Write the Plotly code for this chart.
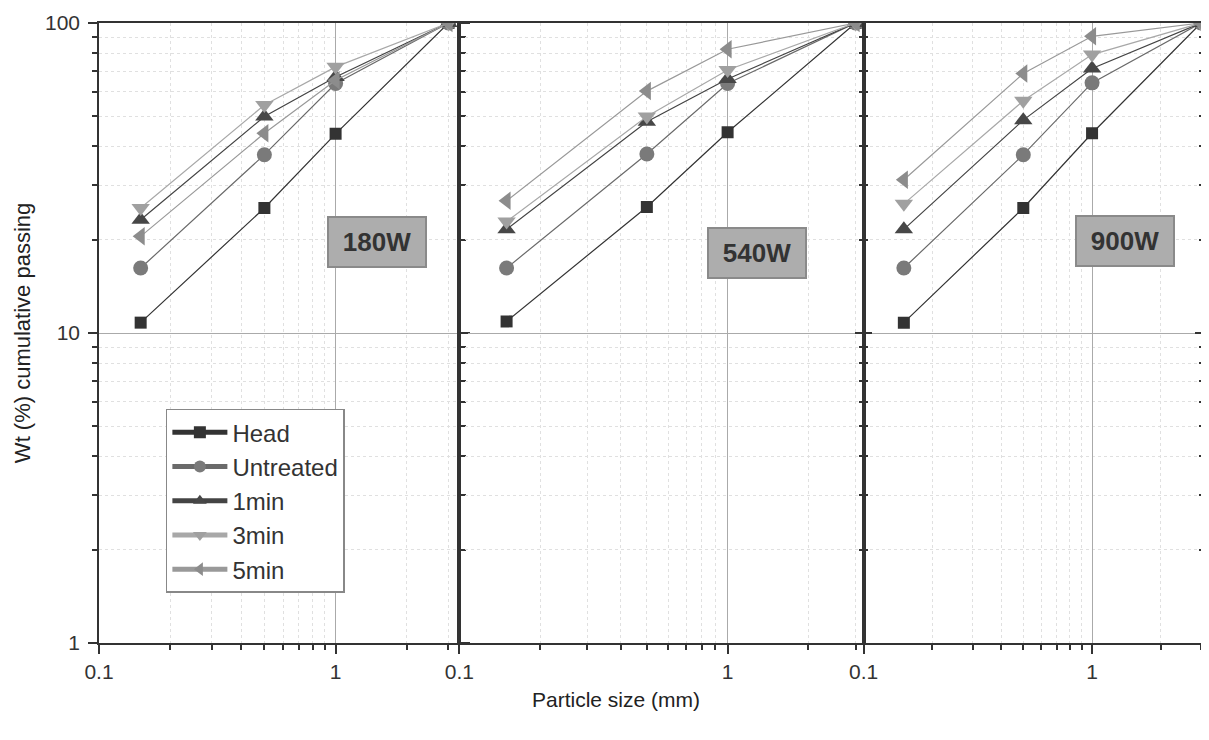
import plotly.graph_objects as go

# ---------------- data ----------------
sizes = [0.15, 0.5, 1.0, 3.0]
series_names = ["Head", "Untreated", "1min", "3min", "5min"]
panel_labels = ["180W", "540W", "900W"]

p180_head = [10.8, 25.3, 43.9, 100]
p180_untreated = [16.2, 37.6, 63.8, 100]
p180_1min = [23.2, 49.9, 67.0, 100]
p180_3min = [25.3, 54.4, 72.2, 100]
p180_5min = [20.5, 44.1, 65.4, 100]

p540_head = [10.9, 25.5, 44.4, 100]
p540_untreated = [16.2, 37.8, 63.8, 100]
p540_1min = [21.6, 48.0, 66.0, 100]
p540_3min = [22.9, 49.9, 70.5, 100]
p540_5min = [26.7, 60.3, 82.3, 100]

p900_head = [10.8, 25.3, 44.1, 100]
p900_untreated = [16.2, 37.6, 64.1, 100]
p900_1min = [21.6, 48.6, 71.3, 100]
p900_3min = [26.1, 56.1, 79.1, 100]
p900_5min = [31.2, 68.7, 90.6, 100]

panels = [
    [p180_head, p180_untreated, p180_1min, p180_3min, p180_5min],
    [p540_head, p540_untreated, p540_1min, p540_3min, p540_5min],
    [p900_head, p900_untreated, p900_1min, p900_3min, p900_5min],
]

x_ticks = [0.1, 1]
x_minor = [0.2, 0.3, 0.4, 0.5, 0.6, 0.7, 0.8, 0.9, 2, 3]
y_ticks = [1, 10, 100]
y_minor = [2, 3, 4, 5, 6, 7, 8, 9, 20, 30, 40, 50, 60, 70, 80, 90]

# ---------------- styles ----------------
symbols = ["square", "circle", "triangle-up", "triangle-down", "triangle-left"]
mcolors = ["#333333", "#7a7a7a", "#474747", "#a0a0a0", "#8c8c8c"]
lcolors = ["#333333", "#6a6a6a", "#444444", "#a8a8a8", "#999999"]
msizes = [12, 15, 16, 16, 16]

OFF = 8  # page body margin
W, H = 1209 - OFF, 740 - OFF
L, T = 99 - OFF, 21 - OFF
R = W - (1206 - OFF)
B = H - (643 - OFF)
pw = W - L - R
ph = H - T - B


def px2paper_x(px):
    return (px - OFF - L) / pw


def px2paper_y(py):
    return (H - B - (py - OFF)) / ph


edges_px = [99, 460, 865, 1206]
domains = [[px2paper_x(edges_px[i]), px2paper_x(edges_px[i + 1])] for i in range(3)]
domains[-1][1] = 1.0
xranges = [[-1, 0.523], [-1, 0.507], [-1, 0.49]]

fig = go.Figure()

for p in range(3):
    xa = "x" if p == 0 else f"x{p+1}"
    for s in range(5):
        fig.add_trace(go.Scatter(
            x=sizes, y=panels[p][s], mode="lines+markers",
            name=series_names[s], showlegend=(p == 0),
            xaxis=xa, yaxis="y" if p == 0 else f"y{p+1}",
            line=dict(color=lcolors[s], width=1.2),
            marker=dict(symbol=symbols[s], size=msizes[s], color=mcolors[s],
                        line=dict(width=0)),
        ))

FONT = "Arial, Liberation Sans, sans-serif"
axis_font = dict(family=FONT, size=21, color="#333333")
for p in range(3):
    key = "xaxis" if p == 0 else f"xaxis{p+1}"
    ykey = "yaxis" if p == 0 else f"yaxis{p+1}"
    fig.layout[key] = dict(
        type="log", domain=domains[p], range=xranges[p],
        anchor="y" if p == 0 else f"y{p+1}",
        tickmode="array", tickvals=x_ticks, ticktext=["0.1", "1"],
        ticks="outside", ticklen=9, tickwidth=1.5, tickcolor="#333",
        showline=True, linecolor="#333", linewidth=1.5, mirror=True,
        showgrid=True, gridcolor="#aaaaaa", gridwidth=1,
        zeroline=False, tickfont=axis_font,
        minor=dict(tickmode="array", tickvals=x_minor, ticks="outside", ticklen=5,
                   tickcolor="#333", showgrid=True, gridcolor="#e0e0e0",
                   griddash="dot", gridwidth=1),
    )
    fig.layout[ykey] = dict(
        type="log", range=[0, 2], domain=[0, 1],
        anchor="x" if p == 0 else f"x{p+1}",
        tickmode="array", tickvals=y_ticks, ticktext=["1", "10", "100"],
        showticklabels=(p == 0), ticklabelstandoff=4,
        ticks="outside" if p == 0 else "inside", ticklen=9, tickwidth=1.5, tickcolor="#333",
        showline=True, linecolor="#333", linewidth=1.5, mirror="ticks",
        showgrid=True, gridcolor="#aaaaaa", gridwidth=1,
        zeroline=False, tickfont=axis_font,
        minor=dict(tickmode="array", tickvals=y_minor,
                   ticks="outside" if p == 0 else "inside", ticklen=5,
                   tickcolor="#333", showgrid=True, gridcolor="#e0e0e0",
                   griddash="dot", gridwidth=1),
    )

# panel labels
label_pos = [(378, 241), (758, 252), (1127, 240)]
for (px, py), txt in zip(label_pos, panel_labels):
    fig.add_annotation(
        x=px2paper_x(px), y=px2paper_y(py), xref="paper", yref="paper",
        text=f"<b>{txt}</b>", showarrow=False,
        font=dict(family=FONT, size=26, color="#333"),
        bgcolor="#adadad", bordercolor="#8a8a8a", borderwidth=2,
        borderpad=0, width=96, height=48, xanchor="center", yanchor="middle",
    )

# axis titles
fig.add_annotation(
    x=px2paper_x(22), y=px2paper_y(332), xref="paper", yref="paper",
    text="Wt (%) cumulative passing", textangle=-90, showarrow=False,
    font=dict(family=FONT, size=22, color="#222"),
    xanchor="center", yanchor="middle",
)
fig.add_annotation(
    x=px2paper_x(617), y=px2paper_y(700), xref="paper", yref="paper",
    text="Particle size (mm)", showarrow=False,
    font=dict(family=FONT, size=21, color="#222"),
    xanchor="center", yanchor="middle",
)

fig.update_layout(
    width=W, height=H,
    margin=dict(l=L, r=R, t=T, b=B),
    paper_bgcolor="white", plot_bgcolor="white",
    showlegend=True,
    legend=dict(
        x=px2paper_x(166), y=px2paper_y(408), xanchor="left", yanchor="top",
        bgcolor="white", bordercolor="#888", borderwidth=1.5,
        font=dict(family=FONT, size=24, color="#333"),
        itemsizing="constant", tracegroupgap=0, itemwidth=55,
    ),
)

fig.write_html("out.html")
